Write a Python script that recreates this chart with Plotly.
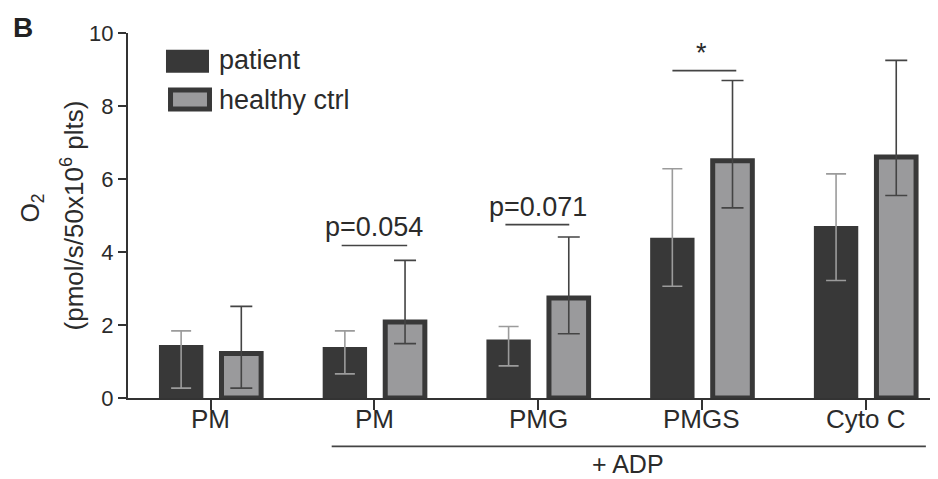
import plotly.graph_objects as go

# ---- data ----
categories = ["PM", "PM", "PMG", "PMGS", "Cyto C"]
patient_mean = [1.45, 1.40, 1.60, 4.39, 4.71]
patient_upper = [1.84, 1.84, 1.96, 6.28, 6.14]
patient_lower = [0.27, 0.66, 0.88, 3.06, 3.22]
healthy_mean = [1.22, 2.08, 2.74, 6.50, 6.60]
healthy_upper = [2.51, 3.77, 4.41, 8.70, 9.25]
healthy_lower = [0.27, 1.49, 1.76, 5.21, 5.55]
y_ticks = [0, 2, 4, 6, 8, 10]

xpos = list(range(len(categories)))
p_plus = [u - m for u, m in zip(patient_upper, patient_mean)]
p_minus = [m - l for m, l in zip(patient_mean, patient_lower)]
h_plus = [u - m for u, m in zip(healthy_upper, healthy_mean)]
h_minus = [m - l for m, l in zip(healthy_mean, healthy_lower)]

DARK = "#383838"
GRAY = "#9a9a9c"
TXT = "#2b2b2b"
FONT = "Liberation Sans, Arial, sans-serif"

fig = go.Figure()
fig.add_trace(go.Bar(
    x=xpos, y=patient_mean, name="patient",
    offset=-0.316, width=0.271,
    marker=dict(color=DARK, line=dict(color=DARK, width=0)),
    error_y=dict(type="data", symmetric=False, array=p_plus, arrayminus=p_minus,
                 color="#9b9b9b", thickness=1.6, width=10),
    showlegend=False,
))
fig.add_trace(go.Bar(
    x=xpos, y=healthy_mean, name="healthy ctrl",
    offset=0.066, width=0.242,
    marker=dict(color=GRAY, line=dict(color=DARK, width=5)),
    error_y=dict(type="data", symmetric=False, array=h_plus, arrayminus=h_minus,
                 color="#444444", thickness=1.6, width=11),
    showlegend=False,
))

shapes = []
annotations = []

# category labels (placed closer to the axis than plotly's default tick labels)
for xi, cat in zip(xpos, categories):
    annotations.append(dict(xref="x", yref="paper", x=xi, y=-0.058, text=cat,
                            showarrow=False, yanchor="middle",
                            font=dict(size=26, color=TXT, family=FONT)))

# significance brackets
sig = [
    (0.80, 1.20, 4.18, "p=0.054", 1.0),
    (1.80, 2.19, 4.75, "p=0.071", 2.0),
    (2.82, 3.21, 8.97, "*", 3.0),
]
for x0, x1, yy, label, xc in sig:
    shapes.append(dict(type="line", xref="x", yref="y", x0=x0, x1=x1, y0=yy, y1=yy,
                       line=dict(color="#444444", width=1.6)))
    annotations.append(dict(xref="x", yref="y", x=xc, y=yy, text=label,
                            showarrow=False, yanchor="bottom", yshift=1,
                            font=dict(size=27, color=TXT, family=FONT)))

# + ADP bracket under axis
shapes.append(dict(type="line", xref="x", yref="paper", x0=0.739, x1=4.368,
                   y0=-0.1326, y1=-0.1326, line=dict(color="#444444", width=1.6)))
annotations.append(dict(xref="x", yref="paper", x=2.55, y=-0.182, text="+ ADP",
                        showarrow=False, yanchor="middle",
                        font=dict(size=25, color=TXT, family=FONT)))

# custom legend
shapes.append(dict(type="rect", xref="paper", yref="paper", x0=0.0469, x1=0.100,
                   y0=0.891, y1=0.954, fillcolor=DARK, line=dict(width=0)))
shapes.append(dict(type="rect", xref="paper", yref="paper", x0=0.0525, x1=0.1006,
                   y0=0.792, y1=0.844, fillcolor=GRAY, line=dict(color=DARK, width=5)))
annotations.append(dict(xref="paper", yref="paper", x=0.1095, y=0.927, text="patient",
                        showarrow=False, xanchor="left", yanchor="middle",
                        font=dict(size=27, color=TXT, family=FONT)))
annotations.append(dict(xref="paper", yref="paper", x=0.1095, y=0.817, text="healthy ctrl",
                        showarrow=False, xanchor="left", yanchor="middle",
                        font=dict(size=27, color=TXT, family=FONT)))

# y axis title (two lines as separate rotated texts)
annotations.append(dict(xref="paper", yref="paper", x=-0.118, y=0.52,
                        text="O<sub>2</sub>", textangle=-90, showarrow=False,
                        xanchor="center", yanchor="middle",
                        font=dict(size=25, color=TXT, family=FONT)))
annotations.append(dict(xref="paper", yref="paper", x=-0.068, y=0.50,
                        text="(pmol/s/50x10<sup>6</sup> plts)", textangle=-90, showarrow=False,
                        xanchor="center", yanchor="middle",
                        font=dict(size=26, color=TXT, family=FONT)))

# panel letter
annotations.append(dict(xref="paper", yref="paper", x=-0.130, y=1.015, text="<b>B</b>",
                        showarrow=False, xanchor="center", yanchor="middle",
                        font=dict(size=28, color="#222222", family=FONT)))

# the page body adds an 8px offset; margins compensate so the plot area
# lands at x 128..938, y 33..398 in the window
fig.update_layout(
    width=938, height=479,
    margin=dict(l=120, r=8, t=25, b=89),
    paper_bgcolor="white", plot_bgcolor="white",
    barmode="overlay",
    shapes=shapes, annotations=annotations,
    font=dict(family=FONT, color=TXT),
)
fig.update_xaxes(
    range=[-0.505, 4.442], tickvals=xpos, ticktext=categories,
    showticklabels=False,
    showline=True, linecolor="#333333", linewidth=2,
    ticks="outside", ticklen=10, tickwidth=2, tickcolor="#333333",
    showgrid=False, zeroline=False,
)
fig.update_yaxes(
    range=[0, 10], tickvals=y_ticks,
    showline=True, linecolor="#333333", linewidth=2,
    ticks="outside", ticklen=8, tickwidth=2, tickcolor="#333333",
    showgrid=False, zeroline=False,
    tickfont=dict(size=22, color=TXT, family=FONT),
)

fig.write_html("out.html")
